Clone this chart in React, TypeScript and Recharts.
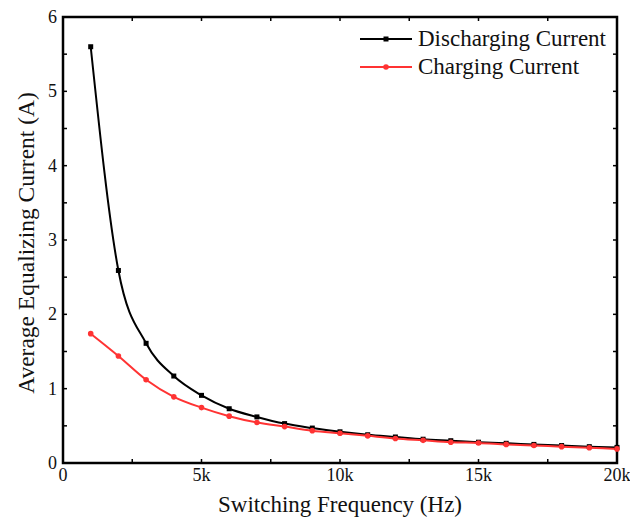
import * as R from 'recharts';
import { LineChart, Line, XAxis, YAxis, Legend, Label } from 'recharts';

const FONT = 'Liberation Serif';

// switching frequency, Hz
const frequency = [
  1000, 2000, 3000, 4000, 5000, 6000, 7000, 8000, 9000, 10000,
  11000, 12000, 13000, 14000, 15000, 16000, 17000, 18000, 19000, 20000,
];
// average equalizing current, A
const discharging = [
  5.6, 2.59, 1.61, 1.17, 0.91, 0.73, 0.62, 0.53, 0.47, 0.42,
  0.38, 0.35, 0.32, 0.3, 0.28, 0.265, 0.25, 0.235, 0.22, 0.21,
];
const charging = [
  1.74, 1.44, 1.12, 0.89, 0.745, 0.63, 0.545, 0.49, 0.435, 0.4,
  0.365, 0.33, 0.305, 0.28, 0.27, 0.25, 0.235, 0.22, 0.205, 0.19,
];

const xTicks = [0, 2500, 5000, 7500, 10000, 12500, 15000, 17500, 20000];
const yTicks = [0, 0.5, 1, 1.5, 2, 2.5, 3, 3.5, 4, 4.5, 5, 5.5, 6];

const data = frequency.map((f, i) => ({
  f,
  discharging: discharging[i],
  charging: charging[i],
}));

const fmtX = (v: number) => (v % 5000 === 0 ? (v === 0 ? '0' : `${v / 1000}k`) : '');
const fmtY = (v: number) => (Number.isInteger(v) ? String(v) : '');

const tickLine = { stroke: '#000', strokeWidth: 1.5 };

// eslint-disable-next-line @typescript-eslint/no-explicit-any
const usePlotArea: any = (R as any).usePlotArea;

// frame around the plot area, taken from the chart's own layout
function Frame() {
  const area = usePlotArea ? usePlotArea() : null;
  if (!area) return null;
  return (
    <rect
      x={area.x}
      y={area.y}
      width={area.width}
      height={area.height}
      fill="none"
      stroke="#000"
      strokeWidth={2.5}
    />
  );
}

// eslint-disable-next-line @typescript-eslint/no-explicit-any
function XTick(props: any) {
  const { x, y, payload } = props;
  const label = fmtX(payload.value);
  if (!label) return null;
  return (
    <text x={x} y={y} dy={13} textAnchor="middle" fontFamily={FONT} fontSize={18} fill="#111">
      {label}
    </text>
  );
}

// eslint-disable-next-line @typescript-eslint/no-explicit-any
function YTick(props: any) {
  const { x, y, payload } = props;
  const label = fmtY(payload.value);
  if (!label) return null;
  return (
    <text x={x} y={y} dy={6} textAnchor="end" fontFamily={FONT} fontSize={18} fill="#111">
      {label}
    </text>
  );
}

// eslint-disable-next-line @typescript-eslint/no-explicit-any
function SquareDot(props: any) {
  const { cx, cy } = props;
  if (cx == null || cy == null) return null;
  return <rect x={cx - 2.5} y={cy - 2.5} width={5} height={5} fill="#000" />;
}

// eslint-disable-next-line @typescript-eslint/no-explicit-any
function YTitle(props: any) {
  const vb = props.viewBox || {};
  const x = 26;
  const y = (vb.y ?? 17) + (vb.height ?? 446) / 2 + 3;
  return (
    <text
      x={x}
      y={y}
      transform={`rotate(-90 ${x} ${y})`}
      textAnchor="middle"
      dominantBaseline="central"
      fontFamily={FONT}
      fontSize={23.5}
      fill="#111"
    >
      Average Equalizing Current (A)
    </text>
  );
}

// eslint-disable-next-line @typescript-eslint/no-explicit-any
function XTitle(props: any) {
  const vb = props.viewBox || {};
  const x = (vb.x ?? 63) + (vb.width ?? 554) / 2;
  const y = (vb.y ?? 463) + 49;
  return (
    <text x={x} y={y} textAnchor="middle" fontFamily={FONT} fontSize={23} fill="#111">
      Switching Frequency (Hz)
    </text>
  );
}

function LegendBox() {
  const rows = [
    { name: 'Discharging Current', color: '#000', square: true },
    { name: 'Charging Current', color: '#ff3333', square: false },
  ];
  return (
    <div style={{ fontFamily: FONT, fontSize: 23, color: '#111' }}>
      {rows.map((r) => (
        <div key={r.name} style={{ display: 'flex', alignItems: 'center', height: 28 }}>
          <svg width={56} height={12} style={{ marginRight: 4 }}>
            <line x1={2} y1={6} x2={54} y2={6} stroke={r.color} strokeWidth={2} />
            {r.square ? (
              <rect x={25.5} y={3.5} width={5} height={5} fill={r.color} />
            ) : (
              <circle cx={28} cy={6} r={2.8} fill={r.color} />
            )}
          </svg>
          <span>{r.name}</span>
        </div>
      ))}
    </div>
  );
}

export default function App() {
  return (
    <div
      style={{
        position: 'absolute',
        left: 0,
        top: 0,
        width: 630,
        height: 525,
        background: '#fff',
        fontFamily: FONT,
      }}
    >
      <LineChart
        width={630}
        height={525}
        data={data}
        margin={{ top: 16, right: 12, left: 0, bottom: 0 }}
      >
        <XAxis
          xAxisId="bottom"
          dataKey="f"
          type="number"
          domain={[0, 20000]}
          ticks={xTicks}
          height={62}
          stroke="#000"
          strokeWidth={2}
          axisLine
          tickLine={tickLine}
          tickSize={-4}
          tickMargin={9}
          tick={<XTick />}
          interval={0}
        >
          <Label content={XTitle} />
        </XAxis>
        <XAxis
          xAxisId="top"
          orientation="top"
          dataKey="f"
          type="number"
          domain={[0, 20000]}
          ticks={xTicks}
          height={1}
          stroke="#000"
          strokeWidth={2}
          axisLine
          tickLine={tickLine}
          tickSize={-4}
          tick={() => null}
          interval={0}
        />
        <YAxis
          yAxisId="left"
          type="number"
          domain={[0, 6]}
          ticks={yTicks}
          width={63}
          stroke="#000"
          strokeWidth={2}
          axisLine
          tickLine={tickLine}
          tickSize={-4}
          tickMargin={10}
          tick={<YTick />}
          interval={0}
        >
          <Label content={YTitle} />
        </YAxis>
        <YAxis
          yAxisId="right"
          orientation="right"
          type="number"
          domain={[0, 6]}
          ticks={yTicks}
          width={1}
          stroke="#000"
          strokeWidth={2}
          axisLine
          tickLine={tickLine}
          tickSize={-4}
          tick={() => null}
          interval={0}
        />
        <Frame />
        <Legend
          layout="horizontal"
          verticalAlign="middle"
          align="center"
          content={() => <LegendBox />}
          wrapperStyle={{ position: 'absolute', top: 25, left: 358, width: 262, height: 60 }}
        />
        <Line
          xAxisId="bottom"
          yAxisId="left"
          type="monotone"
          dataKey="discharging"
          stroke="#000"
          strokeWidth={2}
          dot={<SquareDot />}
          activeDot={false}
          isAnimationActive={false}
        />
        <Line
          xAxisId="top"
          yAxisId="right"
          type="monotone"
          dataKey="charging"
          stroke="#ff3333"
          strokeWidth={2}
          dot={{ r: 2.8, fill: '#ff3333', stroke: '#ff3333', strokeWidth: 0 }}
          activeDot={false}
          isAnimationActive={false}
        />
      </LineChart>
    </div>
  );
}
